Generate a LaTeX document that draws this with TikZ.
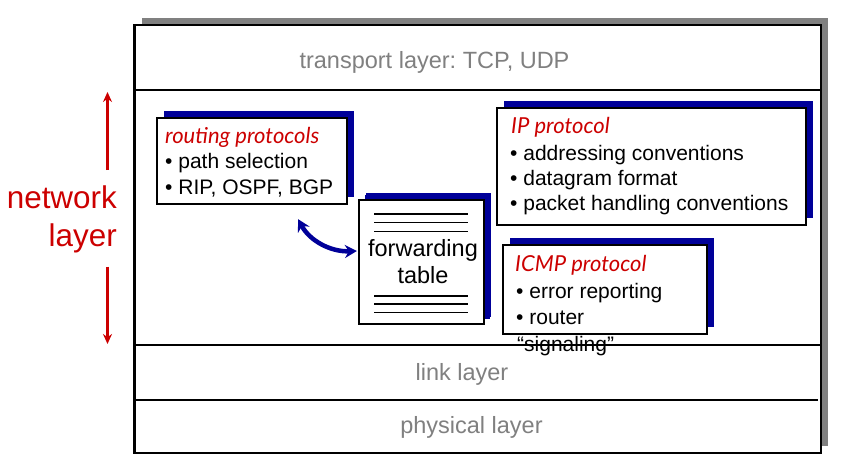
\documentclass[tikz,border=0pt]{standalone}
\usepackage{fontspec}
\setmainfont{Liberation Sans}
\newfontfamily\titlefont{Lato}
\usetikzlibrary{arrows.meta,shadows}
\definecolor{netred}{RGB}{204,0,0}
\definecolor{shadeblue}{RGB}{0,0,153}
\definecolor{layergray}{RGB}{128,128,128}
\frenchspacing
\begin{document}
\begin{tikzpicture}
        [x=1pt, y=-1pt,
        protobox/.style={draw=black, line width=2.2pt, fill=white, inner sep=0,
          drop shadow={shadow xshift=7pt, shadow yshift=7pt, fill=shadeblue, opacity=1}},
        layertext/.style={text=layergray, font=\fontsize{23.5}{28}\selectfont, inner sep=0, anchor=base},
        item/.style={font=\fontsize{21}{25}\selectfont, inner sep=0, anchor=base west},
        prototitle/.style={text=netred, font=\fontsize{22}{26}\selectfont\titlefont\itshape, inner sep=0, anchor=base west},
        nettext/.style={text=netred, font=\fontsize{31.4}{38}\selectfont, inner sep=0, anchor=base east},
        netarrow/.style={draw=netred, line width=2.2pt, -{Stealth[length=10pt, width=9pt]}},
        flowarrow/.style={draw=shadeblue, line width=4.5pt, {Stealth[length=12pt, width=13pt]}-{Stealth[length=12pt, width=13pt]}},
        tabline/.style={line width=1.6pt}]

        \useasboundingbox (0,0) rectangle (844,474);

        % protocol stack
        \fill[layergray] (142,18) rectangle (828,446);
        \draw[line width=2.6pt, fill=white] (134.5,25) rectangle (821,453);
        \draw[line width=2.2pt] (135,90) -- (821,90);
        \draw[line width=2.2pt] (135,345) -- (821,345);
        \draw[line width=2.2pt] (135,400) -- (818,400);

        \node[layertext] (transport) at (434.5,68) {transport layer: TCP, UDP};
        \node[layertext] (link) at (462,380) {link layer};
        \node[layertext] (physical) at (471.5,433) {physical layer};

        % network layer label
        \node[nettext] (netA) at (117,208) {network};
        \node[nettext] (netB) at (117,246) {layer};
        \coordinate (nettop) at (107.5,92);
        \coordinate (netbot) at (107.5,344);
        \draw[netarrow] ([yshift=15pt]netA.north -| nettop) -- (nettop);
        \draw[netarrow] ([yshift=-14pt]netB.south -| netbot) -- (netbot);

        % boxes
        \node[protobox, minimum width=190pt, minimum height=86pt] (routing) at (252,161) {};
        \node[protobox, minimum width=125pt, minimum height=124pt,
          drop shadow={shadow xshift=6pt, shadow yshift=5pt, fill=shadeblue, opacity=1}] (fwd) at (421.5,262) {};
        \node[protobox, minimum width=309pt, minimum height=117pt] (ip) at (651.5,166.5) {};
        \node[protobox, minimum width=204pt, minimum height=89pt] (icmp) at (605,289.5) {};

        % routing protocols
        \node[prototitle] (rtitle) at (165,143) {routing protocols};
        \node[item] (r1) at (165,168) {\textbullet{} path selection};
        \node[item] (r2) at (165,194) {\textbullet{} RIP, OSPF, BGP};

        % forwarding table
        \foreach \dy in {15,23.5,32.5}
          \draw[tabline] ([xshift=-47.5pt, yshift=-\dy pt]fwd.north) -- ++(94,0);
        \foreach \dy in {12.5,21,29}
          \draw[tabline] ([xshift=-47.5pt, yshift=\dy pt]fwd.south) -- ++(94,0);
        \node[layertext, text=black] (f1) at (423,256.5) {forwarding};
        \node[layertext, text=black] (f2) at (423,283) {table};

        % IP protocol
        \node[prototitle] (iptitle) at (511,133.5) {IP protocol};
        \node[item] (ip1) at (510,160) {\textbullet{} addressing conventions};
        \node[item] (ip2) at (510,185.5) {\textbullet{} datagram format};
        \node[item] (ip3) at (510,210.5) {\textbullet{} packet handling conventions};

        % ICMP protocol
        \node[prototitle] (icmptitle) at (515,271) {ICMP protocol};
        \node[item] (ic1) at (516,298.5) {\textbullet{} error reporting};
        \node[item] (ic2) at (516,324.5) {\textbullet{} router};
        \node[item] (ic3) at (517,351) {``signaling''};

        \draw[flowarrow] ([xshift=46pt, yshift=-14pt]routing.south)
          .. controls +(12,22) and +(-26,1) .. ([xshift=-1pt, yshift=11pt]fwd.west);
      \end{tikzpicture}
\end{document}
